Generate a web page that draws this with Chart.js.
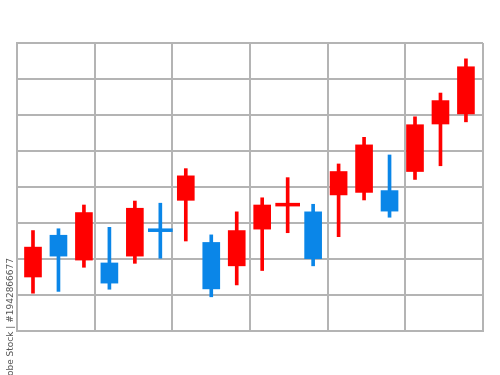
<!DOCTYPE html>
<html>
<head>
<meta charset="utf-8">
<script src="https://cdn.jsdelivr.net/npm/chart.js@4"></script>
<style>
    body { margin: 0; background: #ffffff; }
    canvas { display: block; }
</style>
</head>
<body>
<canvas id="grafico-velas" width="500" height="375"></canvas>
<script>
// Dados das velas (unidades da grade: cada linha horizontal = 10)
var aberturas = [15.0, 26.6, 19.7, 18.9, 20.8, 28.0, 36.3, 24.6, 18.1, 28.3, 35.1, 33.1, 37.8, 38.5, 39.0, 44.3, 57.5, 60.3];
var fechamentos = [23.3, 20.8, 32.9, 13.3, 34.1, 28.0, 43.1, 11.7, 27.9, 35.0, 35.1, 20.1, 44.3, 51.7, 33.3, 57.3, 64.0, 73.4];
var maximos = [27.9, 28.4, 35.0, 28.8, 36.1, 35.5, 45.1, 26.7, 33.1, 37.0, 42.6, 35.2, 46.4, 53.8, 48.9, 59.5, 66.1, 75.6];
var minimos = [10.5, 11.0, 17.7, 11.6, 18.8, 20.2, 25.0, 9.5, 12.8, 16.8, 27.3, 18.1, 26.2, 36.4, 31.6, 42.1, 45.9, 58.1];
// true = vela vermelha (alta), false = azul (baixa)
var altas = [true, false, true, false, true, false, true, false, true, true, true, false, true, true, false, true, true, true];

var VERMELHO = '#ff0000';
var AZUL = '#0a86e8';
var CINZA = '#b4b4b4';

var corpos = [];
var pavios = [];
var dojis = [];
var cores = [];

aberturas.forEach(function (abertura, i) {
    var fechamento = fechamentos[i];
    cores.push(altas[i] ? VERMELHO : AZUL);
    pavios.push({ x: i, y: [minimos[i], maximos[i]] });
    if (abertura === fechamento) {
        corpos.push({ x: i, y: null });
        dojis.push({ x: i, y: [abertura - 0.4, abertura + 0.4] });
    } else {
        corpos.push({ x: i, y: [abertura, fechamento] });
        dojis.push({ x: i, y: null });
    }
});

// texto vertical na borda esquerda
var textoLateral = {
    id: 'textoLateral',
    afterDraw: function (chart) {
        var ctx = chart.ctx;
        ctx.save();
        ctx.translate(11, 258);
        ctx.rotate(-Math.PI / 2);
        ctx.font = '9px "DejaVu Sans"';
        ctx.fillStyle = '#555555';
        ctx.textAlign = 'right';
        ctx.textBaseline = 'middle';
        ctx.fillText('Adobe Stock | #1942866677', 0, 0);
        ctx.restore();
    }
};

var ctx = document.getElementById('grafico-velas').getContext('2d');
var graficoVelas = new Chart(ctx, {
    type: 'bar',
    data: {
        datasets: [
            {
                label: 'Corpo',
                data: corpos,
                backgroundColor: cores,
                barThickness: 17,
                xAxisID: 'x'
            },
            {
                label: 'Doji',
                data: dojis,
                backgroundColor: cores,
                barThickness: 24,
                xAxisID: 'x'
            },
            {
                label: 'Pavio',
                data: pavios,
                backgroundColor: cores,
                barThickness: 3,
                xAxisID: 'x'
            }
        ]
    },
    options: {
        responsive: false,
        animation: false,
        grouped: false,
        borderWidth: 0,
        layout: {
            padding: { left: 17, right: 17, top: 43, bottom: 44 }
        },
        plugins: {
            legend: { display: false },
            tooltip: { enabled: false }
        },
        scales: {
            x: {
                type: 'linear',
                display: false,
                offset: false,
                min: -0.628,
                max: 17.67
            },
            xg: {
                type: 'linear',
                position: 'bottom',
                offset: false,
                min: 0,
                max: 6,
                ticks: { display: false, stepSize: 1 },
                grid: { color: CINZA, lineWidth: 2, drawTicks: false, offset: false },
                border: { color: CINZA, width: 2 }
            },
            y: {
                min: 0,
                max: 80,
                ticks: { display: false, stepSize: 10 },
                grid: { color: CINZA, lineWidth: 2, drawTicks: false },
                border: { color: CINZA, width: 2 }
            }
        }
    },
    plugins: [textoLateral]
});
</script>
</body>
</html>
